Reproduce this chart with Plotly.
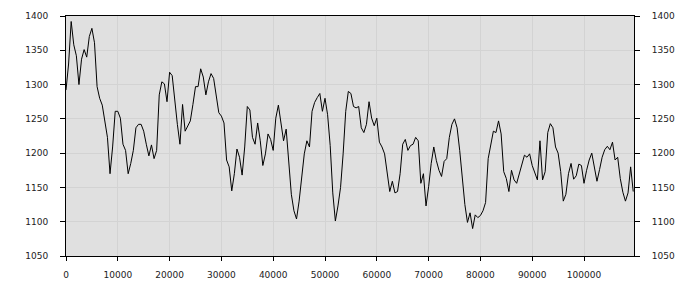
import plotly.graph_objects as go

x_step = 500
values = [
    1292, 1330, 1392, 1358, 1342, 1300, 1337, 1351, 1340, 1370,
    1382, 1361, 1297, 1280, 1270, 1247, 1223, 1170, 1209, 1261,
    1261, 1251, 1213, 1204, 1170, 1185, 1204, 1237, 1242, 1242,
    1232, 1213, 1196, 1212, 1192, 1204, 1285, 1304, 1301, 1275,
    1318, 1313, 1275, 1242, 1213, 1271, 1232, 1240, 1247, 1271,
    1297, 1297, 1323, 1311, 1285, 1304, 1316, 1309, 1282, 1259,
    1254, 1244, 1190, 1180, 1145, 1170, 1206, 1194, 1168, 1209,
    1268, 1263, 1223, 1213, 1244, 1218, 1182, 1199, 1228, 1220,
    1204, 1251, 1270, 1244, 1218, 1235, 1190, 1140, 1116, 1104,
    1130, 1163, 1199, 1218, 1209, 1261, 1274, 1281, 1287, 1261,
    1280, 1256, 1211, 1142, 1101, 1123, 1150, 1199, 1261, 1290,
    1287, 1268, 1266, 1268, 1237, 1230, 1242, 1275, 1251, 1240,
    1251, 1216, 1209, 1199, 1175, 1144, 1159, 1142, 1144, 1170,
    1213, 1220, 1204, 1211, 1213, 1223, 1218, 1156, 1170, 1123,
    1151, 1185, 1209, 1189, 1175, 1166, 1188, 1192, 1223, 1242,
    1250, 1237, 1204, 1161, 1125, 1099, 1113, 1090, 1110, 1106,
    1109, 1116, 1128, 1192, 1213, 1232, 1230, 1247, 1228, 1173,
    1163, 1144, 1175, 1161, 1156, 1170, 1182, 1197, 1194, 1199,
    1182, 1170, 1161, 1218, 1161, 1173, 1230, 1243, 1237, 1209,
    1200, 1173, 1130, 1140, 1170, 1185, 1162, 1167, 1184, 1182,
    1156, 1175, 1190, 1200, 1182, 1159, 1176, 1194, 1205, 1210,
    1205, 1216, 1190, 1194, 1163, 1143, 1130, 1142, 1180, 1144,
]
xs = [i * x_step for i in range(len(values))]
x_range = [0, 109650]
y_range = [1050, 1400]
x_ticks = [0, 10000, 20000, 30000, 40000, 50000, 60000, 70000, 80000, 90000, 100000]
y_ticks = [1050, 1100, 1150, 1200, 1250, 1300, 1350, 1400]

font = dict(family="DejaVu Sans", size=9, color="#222222")
grid = "#d3d3d3"

fig = go.Figure()
fig.add_trace(go.Scatter(x=xs, y=values, mode="lines",
                         line=dict(color="#000000", width=1), showlegend=False,
                         hoverinfo="skip"))
fig.add_trace(go.Scatter(x=xs, y=values, mode="lines", yaxis="y2",
                         line=dict(color="rgba(0,0,0,0)", width=0), showlegend=False,
                         hoverinfo="skip"))

fig.update_layout(
    width=700, height=300,
    margin=dict(l=66, r=66, t=11, b=44),
    paper_bgcolor="#ffffff",
    plot_bgcolor="#e0e0e0",
    font=font,
    xaxis=dict(range=x_range, tickvals=x_ticks, ticktext=[str(v) for v in x_ticks],
               showgrid=True, gridcolor=grid, gridwidth=1, zeroline=False,
               showline=True, linecolor="#000000", linewidth=1, mirror=True,
               ticks="outside", ticklen=4, tickcolor="#000000", tickfont=font,
               ticklabelstandoff=6),
    yaxis=dict(range=y_range, tickvals=y_ticks, ticktext=[str(v) for v in y_ticks],
               showgrid=True, gridcolor=grid, gridwidth=1, zeroline=False,
               showline=True, linecolor="#000000", linewidth=1,
               ticks="outside", ticklen=5, tickcolor="#000000", tickfont=font,
               ticklabelstandoff=10),
    yaxis2=dict(range=y_range, tickvals=y_ticks, ticktext=[str(v) for v in y_ticks],
                overlaying="y", side="right", showgrid=False, zeroline=False,
                showline=True, linecolor="#000000", linewidth=1,
                ticks="outside", ticklen=5, tickcolor="#000000", tickfont=font,
                ticklabelstandoff=10),
)

fig.write_html("out.html")
